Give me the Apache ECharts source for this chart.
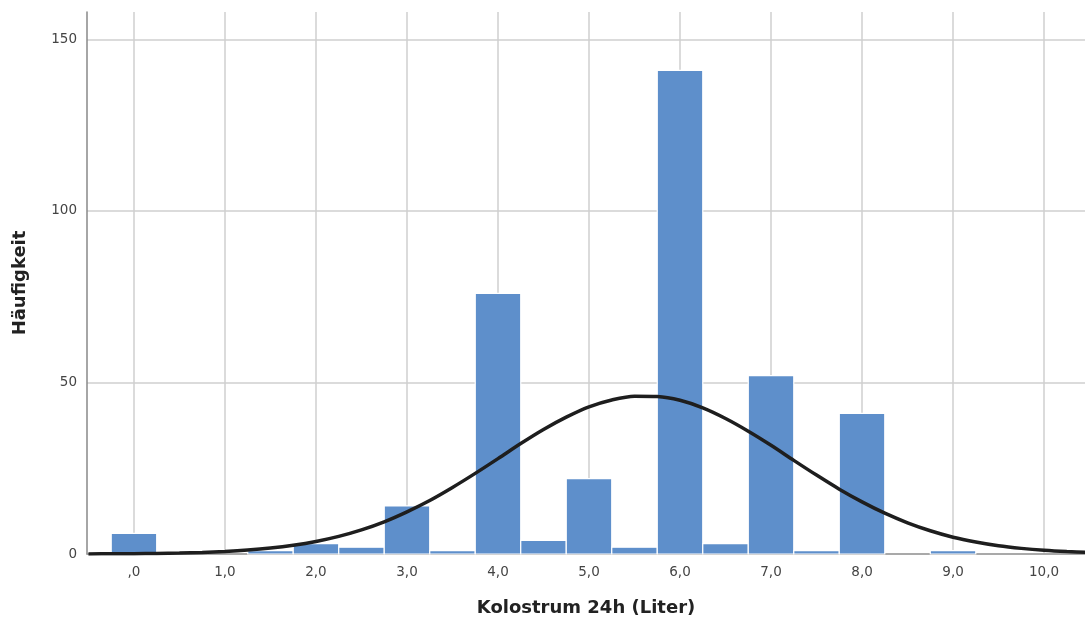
<!DOCTYPE html>
<html>
<head>
<meta charset="utf-8">
<script src="https://cdn.jsdelivr.net/npm/echarts@6/dist/echarts.min.js"></script>
<style>
html,body{margin:0;padding:0;background:#fff;}
#chart{width:1085px;height:619px;}
</style>
</head>
<body>
<div id="chart"></div>
<script>
// Histogram bins (centre, Liter) and counts
const binCenters = [0, 1.5, 2.0, 2.5, 3.0, 3.5, 4.0, 4.5, 5.0, 5.5, 6.0, 6.5, 7.0, 7.5, 8.0, 9.0];
const binCounts  = [6, 1, 3, 2, 14, 1, 76, 4, 22, 2, 141, 3, 52, 1, 41, 1];
const binWidth = 0.5;

// Normal curve, values
const curveX = [-0.5, -0.25, 0, 0.25, 0.5, 0.75, 1, 1.25, 1.5, 1.75, 2, 2.25, 2.5, 2.75, 3, 3.25, 3.5, 3.75,
                4, 4.25, 4.5, 4.75, 5, 5.25, 5.5, 5.75, 6, 6.25, 6.5, 6.75, 7, 7.25, 7.5, 7.75,
                8, 8.25, 8.5, 8.75, 9, 9.25, 9.5, 9.75, 10, 10.25, 10.5];
const curveY = [0.03, 0.06, 0.1, 0.17, 0.29, 0.47, 0.74, 1.14, 1.72, 2.54, 3.65, 5.13, 7.03, 9.39, 12.3, 15.6, 19.4, 23.5,
                27.8, 32.2, 36.3, 39.9, 42.9, 44.9, 46.0, 45.9, 44.8, 42.6, 39.5, 35.8, 31.7, 27.3, 23.0, 18.9,
                15.2, 11.9, 9.1, 6.78, 4.9, 3.5, 2.4, 1.64, 1.08, 0.70, 0.44];

// Tick labels
const xTicks = [0, 1, 2, 3, 4, 5, 6, 7, 8, 9, 10];
const xTickLabels = [',0', '1,0', '2,0', '3,0', '4,0', '5,0', '6,0', '7,0', '8,0', '9,0', '10,0'];
const yTicks = [0, 50, 100, 150];

const chart = echarts.init(document.getElementById('chart'));
const barData = binCenters.map((c, i) => [c, binCounts[i]]);
const lineData = curveX.map((x, i) => [x, curveY[i]]);

chart.setOption({
  animation: false,
  grid: { left: 87, right: 0, top: 12, bottom: 65, containLabel: false, outerBoundsMode: 'none' },
  xAxis: {
    type: 'value',
    min: -0.516,
    max: 10.45,
    name: 'Kolostrum 24h (Liter)',
    nameLocation: 'middle',
    nameGap: 45,
    nameTextStyle: { fontFamily: 'DejaVu Sans', fontWeight: 'bold', fontSize: 18, color: '#222' },
    axisLine: { show: true, onZero: false, lineStyle: { color: '#999', width: 1.5 } },
    axisTick: { show: false, customValues: xTicks },
    axisLabel: {
      customValues: xTicks,
      formatter: v => xTickLabels[xTicks.indexOf(Math.round(v))] || '',
      fontFamily: 'DejaVu Sans', fontSize: 13.5, color: '#444', margin: 11
    },
    splitLine: { show: true, lineStyle: { color: '#cfcfcf', width: 1.5 } }
  },
  yAxis: {
    type: 'value',
    min: 0,
    max: 158,
    name: 'Häufigkeit',
    nameLocation: 'middle',
    nameGap: 58,
    nameTextStyle: { fontFamily: 'DejaVu Sans', fontWeight: 'bold', fontSize: 18, color: '#222' },
    axisLine: { show: true, onZero: false, lineStyle: { color: '#888', width: 1.5 } },
    axisTick: { show: false, customValues: yTicks },
    axisLabel: {
      customValues: yTicks,
      fontFamily: 'DejaVu Sans', fontSize: 13.5, color: '#444', margin: 10
    },
    splitLine: { show: true, lineStyle: { color: '#cfcfcf', width: 1.5 } }
  },
  series: [
    {
      type: 'custom',
      data: barData,
      encode: { x: 0, y: 1 },
      z: 2,
      renderItem: function (params, api) {
        const x = api.value(0), y = api.value(1);
        const p1 = api.coord([x - binWidth / 2, y]);
        const p2 = api.coord([x + binWidth / 2, 0]);
        return {
          type: 'rect',
          shape: { x: p1[0], y: p1[1], width: p2[0] - p1[0], height: p2[1] - p1[1] },
          style: { fill: '#5e8fcb', stroke: '#ffffff', lineWidth: 1.2 }
        };
      }
    },
    {
      type: 'line',
      data: lineData,
      smooth: 0.3,
      symbol: 'none',
      z: 3,
      clip: true,
      lineStyle: { color: '#1e1e1e', width: 3.5 }
    }
  ]
});
</script>
</body>
</html>
